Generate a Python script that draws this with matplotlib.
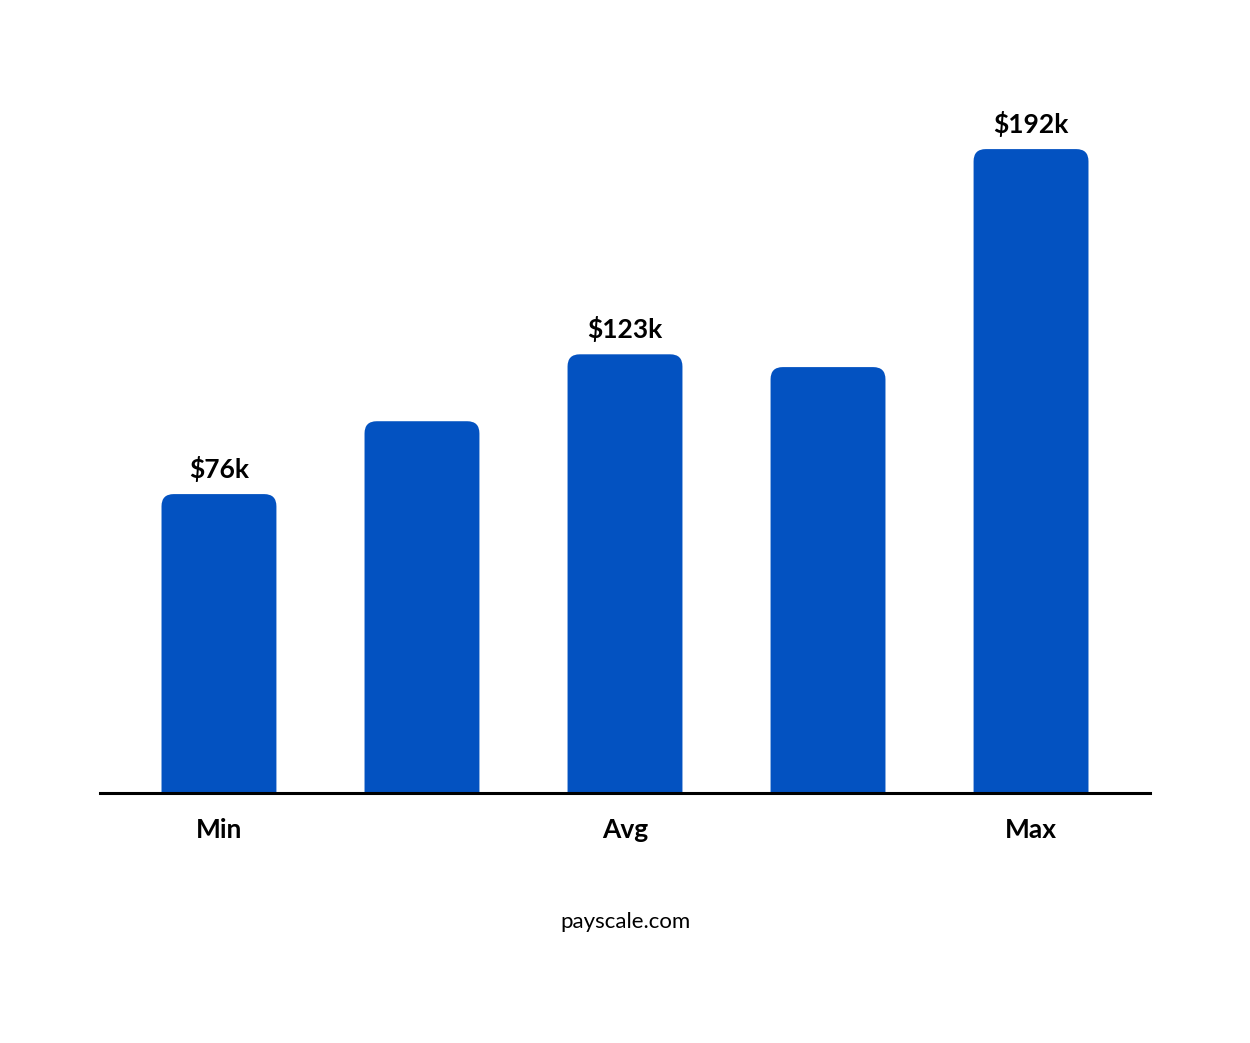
import matplotlib
matplotlib.use("Agg")
import matplotlib.pyplot as plt
from matplotlib.patches import FancyBboxPatch

values = [76, 100.5, 123, 118.7, 192]
labels = ["$76k", "", "$123k", "", "$192k"]
ticks = ["Min", "", "Avg", "", "Max"]
color = "#0352C1"

fig = plt.figure(figsize=(12.5, 10.43), dpi=100)
ax = fig.add_axes([0.08, 0.2397, 0.84, 0.6644])
ymin, ymax = -24.5, 208.5
ax.set_xlim(-0.586, 4.586)
ax.set_ylim(ymin, ymax)
w = 0.566
for i, v in enumerate(values):
    p = FancyBboxPatch((i - w/2, ymin - 20), w, v - ymin + 20,
                       boxstyle="round,pad=0,rounding_size=0.06",
                       mutation_aspect=68.3, fc=color, ec="none")
    ax.add_patch(p)
    if labels[i]:
        ax.text(i, v + 4, labels[i], ha="center", va="bottom", fontsize=19,
                fontweight="bold", family="Lato")
ax.axhline(ymin, color="black", lw=2.2, clip_on=False)
for s in ax.spines.values():
    s.set_visible(False)
ax.set_xticks(range(5))
ax.set_xticklabels(ticks, fontsize=19, fontweight="bold", family="Lato")
ax.tick_params(length=0, pad=18)
ax.set_yticks([])
fig.text(0.5, 0.116, "payscale.com", ha="center", va="center", fontsize=16, family="Lato")
fig.savefig("out.png")
